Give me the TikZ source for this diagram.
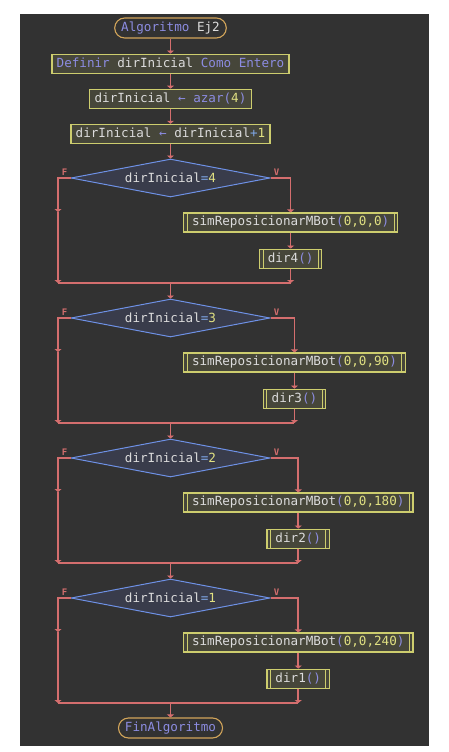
\documentclass[tikz,border=0pt]{standalone}
\usepackage{fontspec}
\usepackage{xcolor}
\usetikzlibrary{arrows.meta, positioning, shapes.geometric}

\newfontfamily\codefont{DejaVu Sans Mono}
\definecolor{fondo}{HTML}{323232}
\definecolor{relleno}{HTML}{46463A}
\definecolor{borde}{HTML}{CDCD6E}
\definecolor{rombo}{HTML}{393C4B}
\definecolor{azul}{HTML}{6E91E6}
\definecolor{rojo}{HTML}{D46E6E}
\definecolor{naranja}{HTML}{D2A55A}
\definecolor{texto}{HTML}{DCDCDC}
\definecolor{clave}{HTML}{8C8CE1}
\definecolor{numero}{HTML}{E1E182}
\definecolor{operador}{HTML}{7FA8E8}
\newcommand{\kwd}[1]{\textcolor{clave}{#1}}
\newcommand{\nmb}[1]{\textcolor{numero}{#1}}
\newcommand{\opr}[1]{\textcolor{operador}{#1}}

\begin{document}
\begin{tikzpicture}[
    x=1pt, y=1pt,
    node distance=15pt,
    font=\codefont\fontsize{12.6}{14}\selectfont,
    box/.style={rectangle, draw=borde, line width=1.1pt, fill=relleno, text=texto, minimum height=19pt, text height=9.3pt, text depth=2.4pt, inner ysep=0pt, inner xsep=#1},
    box/.default=4.7pt,
    subbox/.style={box=8.5pt, path picture={
        \draw[borde, line width=1pt] ([xshift=3.7pt]path picture bounding box.north west) -- ([xshift=3.7pt]path picture bounding box.south west)
            ([xshift=-3.7pt]path picture bounding box.north east) -- ([xshift=-3.7pt]path picture bounding box.south east);}},
    cond/.style={diamond, aspect=5.2, draw=azul, line width=1pt, fill=rombo, text=texto, minimum width=199pt, minimum height=38pt, inner sep=0pt},
    term/.style={rectangle, rounded corners=10pt, draw=naranja, line width=1.1pt, fill=fondo, text=texto, minimum height=20pt, text height=9.3pt, text depth=2.4pt, inner ysep=0pt, inner xsep=6.5pt},
    tramo/.style={draw=rojo, line width=1.6pt},
    flecha/.style={tramo, -{Triangle[width=7pt,length=3pt]}},
    rama/.style={font=\codefont\fontsize{9}{9}\selectfont\bfseries, text=rojo, inner sep=0pt}
]
\fill[white] (0,0) rectangle (448,-752);
\fill[fondo] (20,-14) rectangle (429,-746);

% inicio
\node[term] (ini) at (170.5,-28) {\kwd{Algoritmo} Ej2};
\node[box, below=of ini] (def) {\kwd{Definir} dirInicial \kwd{Como Entero}};
\node[box, below=of def] (azar) {dirInicial \kwd{←} \kwd{azar(}\nmb{4}\kwd{)}};
\node[box, below=of azar] (suma) {dirInicial \kwd{←} dirInicial\opr{+}\nmb{1}};
\draw[flecha] (ini) -- (def);
\draw[flecha] (def) -- (azar);
\draw[flecha] (azar) -- (suma);

% si dirInicial=4
\node[cond] (c4) at (170.5,-178) {dirInicial\opr{=}\nmb{4}};
\node[rama] (f4l) at ([shift={(-6,6)}]c4.west) {F};
\node[rama] (v4l) at ([shift={(6,6)}]c4.east) {V};
\node[subbox, anchor=west] (s4) at (183,-222.5) {simReposicionarMBot\kwd{(}\nmb{0,0,0}\kwd{)}};
\node[subbox, below=16pt of s4] (r4) {dir4\kwd{()}};
\coordinate (f4) at (58,-212);
\coordinate (j4l) at (58,-283);
\coordinate (j4) at (170.5,-283);
\coordinate (j4r) at (r4 |- j4);
\draw[flecha] (suma) -- (c4);
\draw[flecha] (c4.west) -| (f4);
\draw[flecha] (f4) -- (j4l);
\draw[flecha] (c4.east) -| (s4.north);
\draw[flecha] (s4) -- (r4);
\draw[flecha] (r4) -- (j4r);
\draw[tramo] (j4l) -- (j4r);

% si dirInicial=3
\node[cond] (c3) at (170.5,-318) {dirInicial\opr{=}\nmb{3}};
\node[rama] (f3l) at ([shift={(-6,6)}]c3.west) {F};
\node[rama] (v3l) at ([shift={(6,6)}]c3.east) {V};
\node[subbox, anchor=west] (s3) at (183,-362.5) {simReposicionarMBot\kwd{(}\nmb{0,0,90}\kwd{)}};
\node[subbox, below=16pt of s3] (r3) {dir3\kwd{()}};
\coordinate (f3) at (58,-352);
\coordinate (j3l) at (58,-423);
\coordinate (j3) at (170.5,-423);
\coordinate (j3r) at (r3 |- j3);
\draw[flecha] (j4) -- (c3);
\draw[flecha] (c3.west) -| (f3);
\draw[flecha] (f3) -- (j3l);
\draw[flecha] (c3.east) -| (s3.north);
\draw[flecha] (s3) -- (r3);
\draw[flecha] (r3) -- (j3r);
\draw[tramo] (j3l) -- (j3r);

% si dirInicial=2
\node[cond] (c2) at (170.5,-458) {dirInicial\opr{=}\nmb{2}};
\node[rama] (f2l) at ([shift={(-6,6)}]c2.west) {F};
\node[rama] (v2l) at ([shift={(6,6)}]c2.east) {V};
\node[subbox, anchor=west] (s2) at (183,-502.5) {simReposicionarMBot\kwd{(}\nmb{0,0,180}\kwd{)}};
\node[subbox, below=16pt of s2] (r2) {dir2\kwd{()}};
\coordinate (f2) at (58,-492);
\coordinate (j2l) at (58,-563);
\coordinate (j2) at (170.5,-563);
\coordinate (j2r) at (r2 |- j2);
\draw[flecha] (j3) -- (c2);
\draw[flecha] (c2.west) -| (f2);
\draw[flecha] (f2) -- (j2l);
\draw[flecha] (c2.east) -| (s2.north);
\draw[flecha] (s2) -- (r2);
\draw[flecha] (r2) -- (j2r);
\draw[tramo] (j2l) -- (j2r);

% si dirInicial=1
\node[cond] (c1) at (170.5,-598) {dirInicial\opr{=}\nmb{1}};
\node[rama] (f1l) at ([shift={(-6,6)}]c1.west) {F};
\node[rama] (v1l) at ([shift={(6,6)}]c1.east) {V};
\node[subbox, anchor=west] (s1) at (183,-642.5) {simReposicionarMBot\kwd{(}\nmb{0,0,240}\kwd{)}};
\node[subbox, below=16pt of s1] (r1) {dir1\kwd{()}};
\coordinate (f1) at (58,-632);
\coordinate (j1l) at (58,-703);
\coordinate (j1) at (170.5,-703);
\coordinate (j1r) at (r1 |- j1);
\draw[flecha] (j2) -- (c1);
\draw[flecha] (c1.west) -| (f1);
\draw[flecha] (f1) -- (j1l);
\draw[flecha] (c1.east) -| (s1.north);
\draw[flecha] (s1) -- (r1);
\draw[flecha] (r1) -- (j1r);
\draw[tramo] (j1l) -- (j1r);

% fin
\node[term] (fin) at (170.5,-728) {\kwd{FinAlgoritmo}};
\draw[flecha] (j1) -- (fin);
\end{tikzpicture}
\end{document}
